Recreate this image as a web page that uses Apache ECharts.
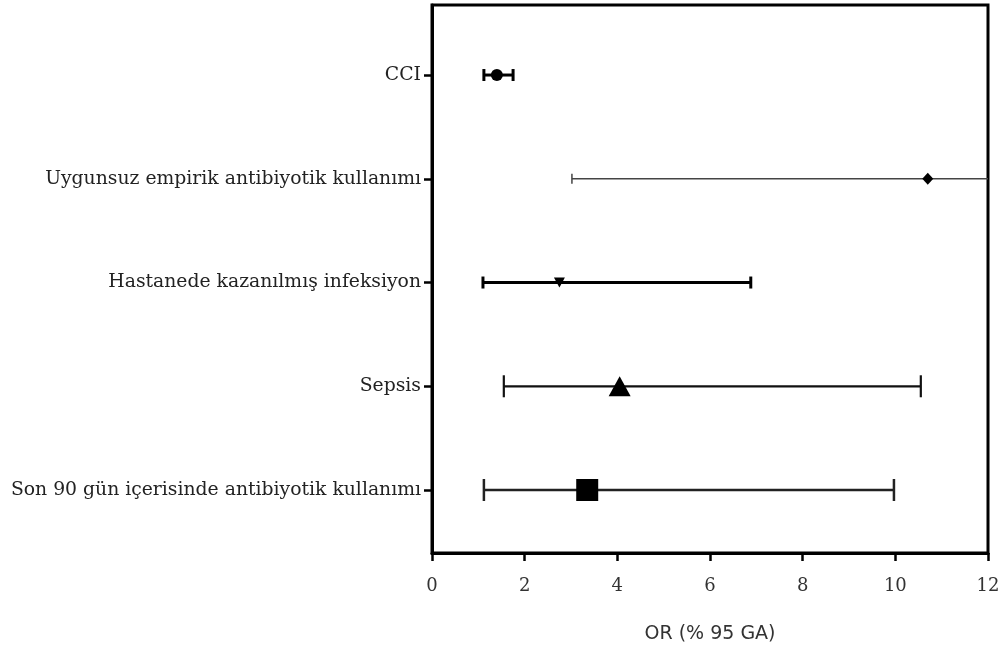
<!DOCTYPE html>
<html>
<head>
<meta charset="utf-8">
<script src="https://cdn.jsdelivr.net/npm/echarts@6/dist/echarts.min.js"></script>
<style>
  html, body { margin: 0; padding: 0; background: #fff; }
  #forest { width: 1000px; height: 650px; }
</style>
</head>
<body>
<div id="forest"></div>
<script>
// 数据
const categories = [
  'CCI',
  'Uygunsuz empirik antibiyotik kullanımı',
  'Hastanede kazanılmış infeksiyon',
  'Sepsis',
  'Son 90 gün içerisinde antibiyotik kullanımı'
]
const orValues = [1.4, 10.7, 2.75, 4.05, 3.35]
const lowerCI = [1.12, 3.02, 1.1, 1.55, 1.12]
const upperCI = [1.75, 40, 6.88, 10.55, 9.97]
const xTicks = [0, 2, 4, 6, 8, 10, 12]

// 每行的样式
const rowStyle = [
  { symbol: 'circle', size: 12, rotate: 0, line: 3, cap: 12, color: '#000' },
  { symbol: 'diamond', size: [11, 12], rotate: 0, line: 1.5, cap: 10, color: '#444' },
  { symbol: 'triangle', size: [11, 10], rotate: 180, line: 3, cap: 12, color: '#000' },
  { symbol: 'triangle', size: [22, 20], rotate: 0, line: 2.2, cap: 22, color: '#111' },
  { symbol: 'rect', size: 22, rotate: 0, line: 2.5, cap: 22, color: '#222' }
]

const rows = categories.map((c, i) => i + 1)

const chart = echarts.init(document.getElementById('forest'))

const option = {
  backgroundColor: '#fff',
  animation: false,
  grid: {
    left: 432,
    right: 12,
    top: 5,
    bottom: 97,
    outerBoundsMode: 'none',
    containLabel: false,
    show: true,
    borderColor: '#000',
    borderWidth: 3
  },
  xAxis: {
    type: 'value',
    min: xTicks[0],
    max: xTicks[xTicks.length - 1],
    interval: 2,
    name: 'OR (% 95 GA)',
    nameLocation: 'middle',
    nameGap: 72,
    nameTextStyle: {
      fontFamily: 'DejaVu Sans',
      fontSize: 19,
      color: '#333'
    },
    axisLine: { show: true, lineStyle: { color: '#000', width: 3 } },
    axisTick: { show: true, length: 8, lineStyle: { color: '#000', width: 2.5 } },
    axisLabel: {
      fontFamily: 'DejaVu Serif',
      fontSize: 18,
      color: '#333',
      margin: 24
    },
    splitLine: { show: false }
  },
  yAxis: {
    type: 'value',
    inverse: true,
    min: 0.325,
    max: 5.607,
    axisLine: { show: true, lineStyle: { color: '#000', width: 3 } },
    axisTick: {
      show: true,
      customValues: rows,
      length: 8,
      lineStyle: { color: '#000', width: 2.5 }
    },
    axisLabel: {
      customValues: rows,
      formatter: function (v) {
        return categories[v - 1]
      },
      fontFamily: 'DejaVu Serif',
      fontSize: 18.8,
      color: '#222',
      margin: 11
    },
    splitLine: { show: false }
  },
  series: [
    {
      // 置信区间
      type: 'custom',
      clip: true,
      data: rows.map((r, i) => [r, lowerCI[i], upperCI[i]]),
      renderItem: function (params, api) {
        const st = rowStyle[params.dataIndex]
        const lo = api.coord([api.value(1), api.value(0)])
        const hi = api.coord([api.value(2), api.value(0)])
        const h = st.cap / 2
        const style = { stroke: st.color, lineWidth: st.line, fill: null }
        return {
          type: 'group',
          children: [
            { type: 'line', shape: { x1: lo[0], y1: lo[1], x2: hi[0], y2: hi[1] }, style: style },
            { type: 'line', shape: { x1: lo[0], y1: lo[1] - h, x2: lo[0], y2: lo[1] + h }, style: style },
            { type: 'line', shape: { x1: hi[0], y1: hi[1] - h, x2: hi[0], y2: hi[1] + h }, style: style }
          ]
        }
      },
      z: 2
    },
    {
      // OR 点
      type: 'scatter',
      data: rows.map((r, i) => ({
        value: [orValues[i], r],
        symbol: rowStyle[i].symbol,
        symbolSize: rowStyle[i].size,
        symbolRotate: rowStyle[i].rotate
      })),
      itemStyle: { color: '#000', opacity: 1 },
      z: 3
    }
  ]
}

chart.setOption(option)
</script>
</body>
</html>
